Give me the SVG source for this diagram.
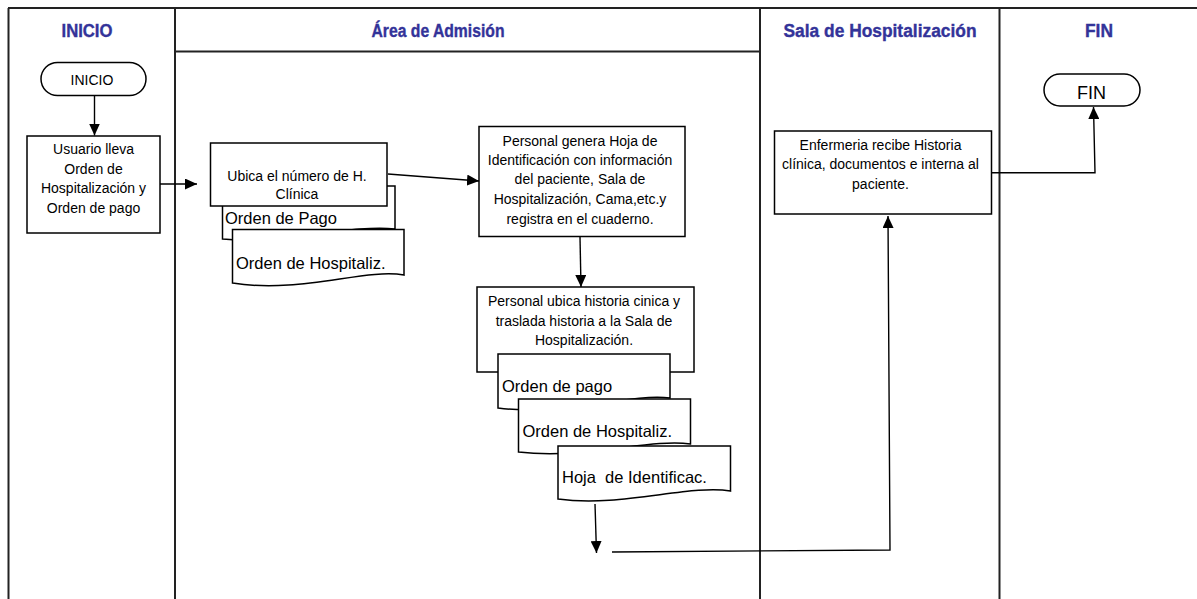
<svg xmlns="http://www.w3.org/2000/svg" width="1197" height="599" viewBox="0 0 1197 599">
  <defs>
    <marker id="arrow" markerUnits="userSpaceOnUse" markerWidth="12" markerHeight="11" refX="12" refY="5.5" orient="auto">
      <path d="M0,0 L12,5.5 L0,11 Z" fill="#000"/>
    </marker>
    <style>
      .frame { stroke: #222; stroke-width: 2; fill: none; }
      .lane-title { font-family: "Liberation Sans", Arial, sans-serif; font-weight: bold; font-size: 17.5px; fill: #333399; stroke: #333399; stroke-width: 0.35; text-anchor: middle; }
      .box { fill: #fff; stroke: #000; stroke-width: 1.5; }
      .txt { font-family: "Liberation Sans", Arial, sans-serif; font-size: 14px; fill: #000; text-anchor: middle; }
      .doc-txt { font-family: "Liberation Sans", Arial, sans-serif; font-size: 16.5px; fill: #000; white-space: pre; }
      .conn { fill: none; stroke: #000; stroke-width: 1.4; }
    </style>
  </defs>

  <rect width="1197" height="599" fill="#fff"/>

  <!-- swimlane frame -->
  <g id="lanes">
    <line class="frame" x1="8" y1="8" x2="1197" y2="8"/>
    <line class="frame" x1="8.5" y1="8" x2="8.5" y2="599"/>
    <line class="frame" x1="175" y1="8" x2="175" y2="599"/>
    <line class="frame" x1="760" y1="8" x2="760" y2="599"/>
    <line class="frame" x1="999.5" y1="8" x2="999.5" y2="599"/>
    <line class="frame" x1="175" y1="51.5" x2="760" y2="51.5"/>
    <text class="lane-title" x="87" y="36.5" textLength="51" lengthAdjust="spacingAndGlyphs">INICIO</text>
    <text class="lane-title" x="438" y="36.5" textLength="133" lengthAdjust="spacingAndGlyphs">Área de Admisión</text>
    <text class="lane-title" x="880" y="36.5" textLength="193" lengthAdjust="spacingAndGlyphs">Sala de Hospitalización</text>
    <text class="lane-title" x="1099" y="36.5" textLength="28" lengthAdjust="spacingAndGlyphs">FIN</text>
  </g>

  <!-- start terminal -->
  <g id="inicio">
    <rect class="box" x="41" y="62.5" width="105" height="33" rx="16.5" ry="16.5"/>
    <text class="txt" x="92" y="85">INICIO</text>
  </g>

  <!-- user carries orders -->
  <g id="usuario">
    <rect class="box" x="27" y="136" width="133" height="97"/>
    <text class="txt" x="93.5" y="154">Usuario lleva</text>
    <text class="txt" x="93.5" y="173.5">Orden de</text>
    <text class="txt" x="93.5" y="193">Hospitalización y</text>
    <text class="txt" x="93.5" y="212.5">Orden de pago</text>
  </g>

  <!-- admission: locate record number, with documents -->
  <g id="ubica">
    <path class="box" d="M222.5,186 H395 V229 C350,224 280,245 222.5,239 Z"/>
    <text class="doc-txt" x="225" y="223.5">Orden de Pago</text>
    <rect class="box" x="210.5" y="143" width="176.5" height="63"/>
    <text class="txt" x="297" y="181">Ubica el número de H.</text>
    <text class="txt" x="297" y="198.5">Clínica</text>
    <path class="box" d="M232.5,229.5 H404 V275 C365,268 300,294 232.5,283 Z"/>
    <text class="doc-txt" x="236" y="269">Orden de Hospitaliz.</text>
  </g>

  <!-- admission: identification sheet -->
  <g id="genera">
    <rect class="box" x="479" y="126.5" width="206" height="110"/>
    <text class="txt" x="580" y="145.5">Personal genera Hoja de</text>
    <text class="txt" x="580" y="165">Identificación con información</text>
    <text class="txt" x="580" y="184">del paciente, Sala de</text>
    <text class="txt" x="580" y="204">Hospitalización, Cama,etc.y</text>
    <text class="txt" x="580" y="223.5">registra en el cuaderno.</text>
  </g>

  <!-- admission: move record to ward, with documents -->
  <g id="traslada">
    <rect class="box" x="477" y="287" width="217" height="85"/>
    <text class="txt" x="584" y="306">Personal ubica historia cinica y</text>
    <text class="txt" x="584" y="325.5">traslada historia a la Sala de</text>
    <text class="txt" x="584" y="344.5">Hospitalización.</text>
    <path class="box" d="M498,354 H670 V398 C630,393 560,416 498,408 Z"/>
    <text class="doc-txt" x="502" y="391.5">Orden de pago</text>
    <path class="box" d="M518.5,399 H690.5 V444 C650,438 585,460 518.5,452 Z"/>
    <text class="doc-txt" x="522.5" y="436.5">Orden de Hospitaliz.</text>
    <path class="box" d="M558,446 H730.5 V491 C690,484 620,508 558,499 Z"/>
    <text class="doc-txt" x="562" y="482.5">Hoja  de Identificac.</text>
  </g>

  <!-- ward: nursing admits patient -->
  <g id="enfermeria">
    <rect class="box" x="774.5" y="131" width="217" height="83"/>
    <text class="txt" x="880.5" y="150">Enfermeria recibe Historia</text>
    <text class="txt" x="880.5" y="169">clínica, documentos e interna al</text>
    <text class="txt" x="880.5" y="189">paciente.</text>
  </g>

  <!-- end terminal -->
  <g id="fin">
    <rect class="box" x="1044" y="74" width="96" height="32" rx="16" ry="16"/>
    <text class="txt" x="1091.5" y="98.5" style="font-size:18px">FIN</text>
  </g>

  <!-- connectors -->
  <g id="connectors">
    <line class="conn" x1="94.5" y1="96" x2="94.5" y2="135.5" marker-end="url(#arrow)"/>
    <line class="conn" x1="160" y1="184" x2="197" y2="184" marker-end="url(#arrow)"/>
    <line class="conn" x1="388" y1="174" x2="479" y2="181" marker-end="url(#arrow)"/>
    <line class="conn" x1="580" y1="237" x2="581" y2="287" marker-end="url(#arrow)"/>
    <line class="conn" x1="595" y1="504" x2="596.5" y2="553" marker-end="url(#arrow)"/>
    <polyline class="conn" points="612,552 890,550 888,216" marker-end="url(#arrow)"/>
    <polyline class="conn" points="992,172.7 1095,172.7 1093.5,107" marker-end="url(#arrow)"/>
  </g>
</svg>
